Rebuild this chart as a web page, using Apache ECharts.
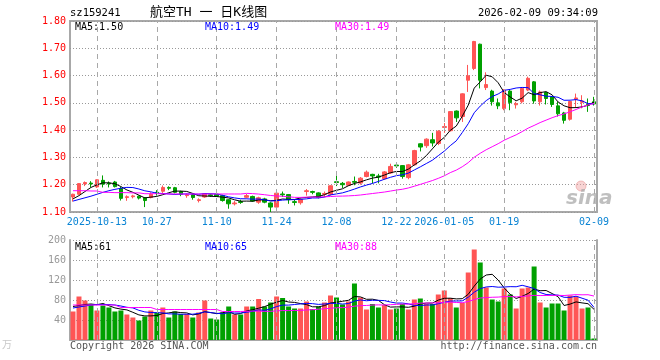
<!DOCTYPE html>
<html><head><meta charset="utf-8">
<script src="https://cdn.jsdelivr.net/npm/echarts@6/dist/echarts.min.js"></script>
<style>html,body{margin:0;padding:0;background:#fff}#c{width:660px;height:360px}</style>
</head><body><div id="c"></div>
<script>
// ---------------- data ----------------
const dates = [
'2025-09-29','2025-09-30','2025-10-09','2025-10-10','2025-10-13','2025-10-14','2025-10-15','2025-10-16','2025-10-17','2025-10-20',
'2025-10-21','2025-10-22','2025-10-23','2025-10-24','2025-10-27','2025-10-28','2025-10-29','2025-10-30','2025-10-31','2025-11-03',
'2025-11-04','2025-11-05','2025-11-06','2025-11-07','2025-11-10','2025-11-11','2025-11-12','2025-11-13','2025-11-14','2025-11-17',
'2025-11-18','2025-11-19','2025-11-20','2025-11-21','2025-11-24','2025-11-25','2025-11-26','2025-11-27','2025-11-28','2025-12-01',
'2025-12-02','2025-12-03','2025-12-04','2025-12-05','2025-12-08','2025-12-09','2025-12-10','2025-12-11','2025-12-12','2025-12-15',
'2025-12-16','2025-12-17','2025-12-18','2025-12-19','2025-12-22','2025-12-23','2025-12-24','2025-12-25','2025-12-26','2025-12-29',
'2025-12-30','2025-12-31','2026-01-05','2026-01-06','2026-01-07','2026-01-08','2026-01-09','2026-01-12','2026-01-13','2026-01-14',
'2026-01-15','2026-01-16','2026-01-19','2026-01-20','2026-01-21','2026-01-22','2026-01-23','2026-01-26','2026-01-27','2026-01-28',
'2026-01-29','2026-01-30','2026-02-02','2026-02-03','2026-02-04','2026-02-05','2026-02-06','2026-02-09'];

const opens = [
1.155,1.165,1.203,1.206,1.192,1.216,1.206,1.210,1.186,1.153,
1.156,1.158,1.152,1.153,1.172,1.176,1.190,1.189,1.175,1.160,
1.163,1.142,1.155,1.163,1.165,1.160,1.145,1.130,1.138,1.154,
1.157,1.136,1.148,1.133,1.118,1.166,1.164,1.138,1.134,1.175,
1.175,1.170,1.165,1.165,1.211,1.205,1.198,1.212,1.206,1.230,
1.238,1.232,1.222,1.243,1.272,1.270,1.226,1.273,1.350,1.343,
1.365,1.351,1.410,1.398,1.470,1.450,1.583,1.626,1.715,1.556,
1.543,1.500,1.479,1.543,1.493,1.504,1.547,1.577,1.504,1.538,
1.522,1.489,1.463,1.440,1.513,1.502,1.494,1.504];
const closes = [
1.165,1.204,1.208,1.203,1.218,1.202,1.203,1.193,1.150,1.156,
1.159,1.151,1.142,1.165,1.169,1.190,1.187,1.172,1.165,1.163,
1.153,1.145,1.167,1.160,1.158,1.142,1.130,1.133,1.135,1.160,
1.140,1.152,1.136,1.118,1.169,1.163,1.145,1.135,1.146,1.178,
1.172,1.153,1.168,1.196,1.208,1.200,1.210,1.209,1.224,1.246,
1.232,1.228,1.247,1.267,1.269,1.230,1.273,1.325,1.338,1.367,
1.353,1.396,1.413,1.468,1.445,1.533,1.599,1.725,1.583,1.567,
1.504,1.489,1.547,1.501,1.497,1.553,1.590,1.507,1.540,1.516,
1.494,1.460,1.436,1.505,1.518,1.507,1.490,1.496];
const lows = [
1.138,1.163,1.195,1.191,1.188,1.190,1.190,1.190,1.142,1.141,
1.150,1.146,1.118,1.150,1.160,1.170,1.180,1.168,1.158,1.152,
1.145,1.135,1.152,1.155,1.155,1.138,1.112,1.124,1.130,1.150,
1.137,1.130,1.132,1.100,1.115,1.155,1.130,1.124,1.127,1.160,
1.165,1.150,1.155,1.160,1.195,1.188,1.195,1.198,1.200,1.227,
1.205,1.205,1.218,1.240,1.262,1.222,1.220,1.270,1.322,1.335,
1.340,1.345,1.390,1.395,1.430,1.430,1.540,1.620,1.553,1.547,
1.490,1.477,1.473,1.473,1.479,1.498,1.543,1.497,1.490,1.494,
1.485,1.450,1.424,1.435,1.485,1.480,1.467,1.490];
const highs = [
1.167,1.206,1.212,1.213,1.220,1.234,1.212,1.214,1.192,1.161,
1.163,1.160,1.155,1.172,1.180,1.197,1.194,1.192,1.178,1.168,
1.166,1.150,1.168,1.167,1.168,1.163,1.147,1.140,1.145,1.166,
1.160,1.156,1.152,1.136,1.172,1.175,1.166,1.145,1.150,1.184,
1.178,1.172,1.175,1.198,1.233,1.210,1.212,1.230,1.228,1.252,
1.240,1.240,1.250,1.277,1.277,1.272,1.276,1.328,1.352,1.370,
1.390,1.400,1.426,1.470,1.472,1.535,1.639,1.727,1.717,1.612,
1.548,1.516,1.550,1.547,1.504,1.555,1.596,1.580,1.545,1.540,
1.525,1.504,1.467,1.507,1.534,1.528,1.516,1.522];
const volumes = [
57,87,79,71,59,69,65,57,59,51,
45,39,47,59,55,65,45,57,52,52,
45,55,79,43,41,55,67,51,51,67,
67,82,67,75,87,84,67,63,63,77,
62,67,75,89,85,71,77,113,85,61,
72,65,70,61,63,72,61,81,83,72,
72,91,99,84,65,74,135,181,155,105,
81,77,103,91,63,103,105,147,75,65,
73,73,59,89,87,63,65,3];

// moving-average values at the left edge (history before the first candle)
const ma5Head  = [1.148,1.160,1.175,1.190];
const ma10Head = [1.140,1.146,1.152,1.158,1.165,1.172,1.178,1.183,1.187];
const ma30Head = [1.178,1.178,1.178,1.177,1.177,1.172,1.172,1.171,1.171,1.171,1.170,1.170,
                  1.167,1.167,1.167,1.167,1.166,1.166,1.166,1.166,1.166,1.166,1.166,1.166,1.166,1.166,1.166,1.166,1.166];
const volMa5Head  = [67,69,71,72];
const volMa10Head = [64,66,68,70,71,71,71,70,68];
const volMa30Head = [70,70,70,70,70,70,70,70,65,65,65,65,65,65,61,61,61,61,61,61,61,61,61,61,61,57,57,57,57];

const labelDates = ['2025-10-13','2025-10-27','2025-11-10','2025-11-24','2025-12-08','2025-12-22','2026-01-05','2026-01-19','2026-02-09'];
const labelTexts = ['2025-10-13','10-27','11-10','11-24','12-08','12-22','2026-01-05','01-19','02-09'];

const legendMain = ['MA5:1.50','MA10:1.49','MA30:1.49'];
const legendVol  = ['MA5:61','MA10:65','MA30:88'];

// ---------------- helpers ----------------
function movingAvg(vals, n, head) {
  return vals.map((v, i) => {
    if (i < n - 1) return head[i];
    let s = 0; for (let k = i - n + 1; k <= i; k++) s += vals[k];
    return +(s / n).toFixed(4);
  });
}
const UP = '#ff5555', DOWN = '#00a000';
const MONO = '"DejaVu Sans Mono", monospace';
const GRIDC = '#a8a8a8';
const FS = 10;

const kData = dates.map((d, i) => [opens[i], closes[i], lows[i], highs[i]]);
const volData = volumes.map((v, i) => ({ value: v, itemStyle: { color: closes[i] >= opens[i] ? UP : DOWN } }));

const vLines = {
  silent: true, symbol: ['none', 'none'], animation: false,
  label: { show: false },
  lineStyle: { type: [5, 4], color: GRIDC, width: 1 },
  emphasis: { disabled: true },
  data: labelDates.map(d => ({ xAxis: d }))
};

function maLine(name, data, color, xi, yi) {
  return { name, type: 'line', data, xAxisIndex: xi, yAxisIndex: yi, showSymbol: false, symbol: 'none',
    lineStyle: { color, width: 1 }, itemStyle: { color }, silent: true, animation: false, z: 3 };
}

function txt(text, x, y, fill, font, align) {
  return { type: 'text', x, y, silent: true, z: 100,
    style: { text, fill, font, textAlign: align || 'left', textVerticalAlign: 'middle' } };
}

const chart = echarts.init(document.getElementById('c'), null, { renderer: 'canvas' });
chart.setOption({
  animation: false,
  backgroundColor: '#fff',
  grid: [
    { left: 70, top: 21, width: 527, height: 191, show: true, borderColor: GRIDC, borderWidth: 2, backgroundColor: 'transparent' },
    { left: 70, top: 240, width: 527, height: 100, show: false }
  ],
  xAxis: [
    { type: 'category', gridIndex: 0, data: dates, boundaryGap: true,
      axisLine: { show: false }, axisTick: { show: false }, splitLine: { show: false },
      axisLabel: { interval: (i, v) => labelDates.includes(v), formatter: v => labelTexts[labelDates.indexOf(v)] || '',
        color: '#0a84d4', fontFamily: MONO, fontSize: FS, margin: 5, hideOverlap: false } },
    { type: 'category', gridIndex: 1, data: dates, boundaryGap: true, position: 'top',
      axisLine: { show: true, lineStyle: { color: GRIDC, width: 2 } }, axisTick: { show: false },
      axisLabel: { show: false }, splitLine: { show: false } }
  ],
  yAxis: [
    { type: 'value', gridIndex: 0, min: 1.1, max: 1.8, interval: 0.1, scale: true,
      axisLine: { show: false }, axisTick: { show: false },
      axisLabel: { color: '#ff0000', fontFamily: MONO, fontSize: FS, margin: 4, formatter: v => v.toFixed(2) },
      splitLine: { show: true, lineStyle: { type: [1, 2], color: '#999', width: 1 } } },
    { type: 'value', gridIndex: 1, min: 0, max: 200, interval: 40,
      axisLine: { show: true, lineStyle: { color: GRIDC, width: 2 } }, axisTick: { show: false },
      axisLabel: { color: '#999', fontFamily: MONO, fontSize: FS, margin: 4, formatter: v => v === 0 ? '' : String(v) },
      splitLine: { show: true, lineStyle: { type: [1, 2], color: '#999', width: 1 } } },
    { type: 'value', gridIndex: 1, min: 0, max: 200, interval: 40, position: 'right',
      axisLine: { show: true, lineStyle: { color: GRIDC, width: 2 } }, axisTick: { show: false },
      axisLabel: { show: false }, splitLine: { show: false } }
  ],
  series: [
    { name: 'K', type: 'candlestick', xAxisIndex: 0, yAxisIndex: 0, data: kData, barWidth: 4,
      itemStyle: { color: UP, color0: DOWN, borderColor: UP, borderColor0: DOWN, borderWidth: 1 },
      silent: true, markLine: vLines, z: 2 },
    maLine('MA5', movingAvg(closes, 5, ma5Head), '#000000', 0, 0),
    maLine('MA10', movingAvg(closes, 10, ma10Head), '#0000ff', 0, 0),
    maLine('MA30', movingAvg(closes, 30, ma30Head), '#ff00ff', 0, 0),
    { name: 'VOL', type: 'bar', xAxisIndex: 1, yAxisIndex: 1, data: volData, barWidth: 5,
      silent: true, markLine: vLines, z: 2 },
    maLine('VMA5', movingAvg(volumes, 5, volMa5Head), '#000000', 1, 1),
    maLine('VMA10', movingAvg(volumes, 10, volMa10Head), '#0000ff', 1, 1),
    maLine('VMA30', movingAvg(volumes, 30, volMa30Head), '#ff00ff', 1, 1)
  ],
  graphic: [
    txt('sz159241', 70, 13, '#000', '10.5px ' + MONO),
    txt('航空TH 一 日K线图', 150, 13, '#000', '13px ' + MONO + ', "Noto Sans CJK SC"'),
    txt('2026-02-09 09:34:09', 598, 13, '#000', '10.5px ' + MONO, 'right'),
    txt(legendMain[0], 75, 27, '#000', FS + 'px ' + MONO),
    txt(legendMain[1], 205, 27, '#0000ff', FS + 'px ' + MONO),
    txt(legendMain[2], 335, 27, '#ff00ff', FS + 'px ' + MONO),
    txt(legendVol[0], 75, 247, '#000', FS + 'px ' + MONO),
    txt(legendVol[1], 205, 247, '#0000ff', FS + 'px ' + MONO),
    txt(legendVol[2], 335, 247, '#ff00ff', FS + 'px ' + MONO),
    txt('Copyright 2026 SINA.COM', 70, 346, '#555', FS + 'px ' + MONO),
    txt('http://finance.sina.com.cn', 597, 346, '#555', FS + 'px ' + MONO, 'right'),
    txt('万', 2, 344, '#c8c8c8', '10px "Noto Sans CJK SC"'),
    txt('sina', 566, 199, 'rgba(170,170,170,0.75)', 'italic bold 20px "DejaVu Sans"'),
    { type: 'circle', shape: { cx: 581, cy: 186, r: 5 }, silent: true, z: 99,
      style: { fill: 'rgba(240,160,160,0.45)', stroke: 'rgba(230,140,140,0.5)', lineWidth: 1 } }
  ]
});
</script>
</body></html>
